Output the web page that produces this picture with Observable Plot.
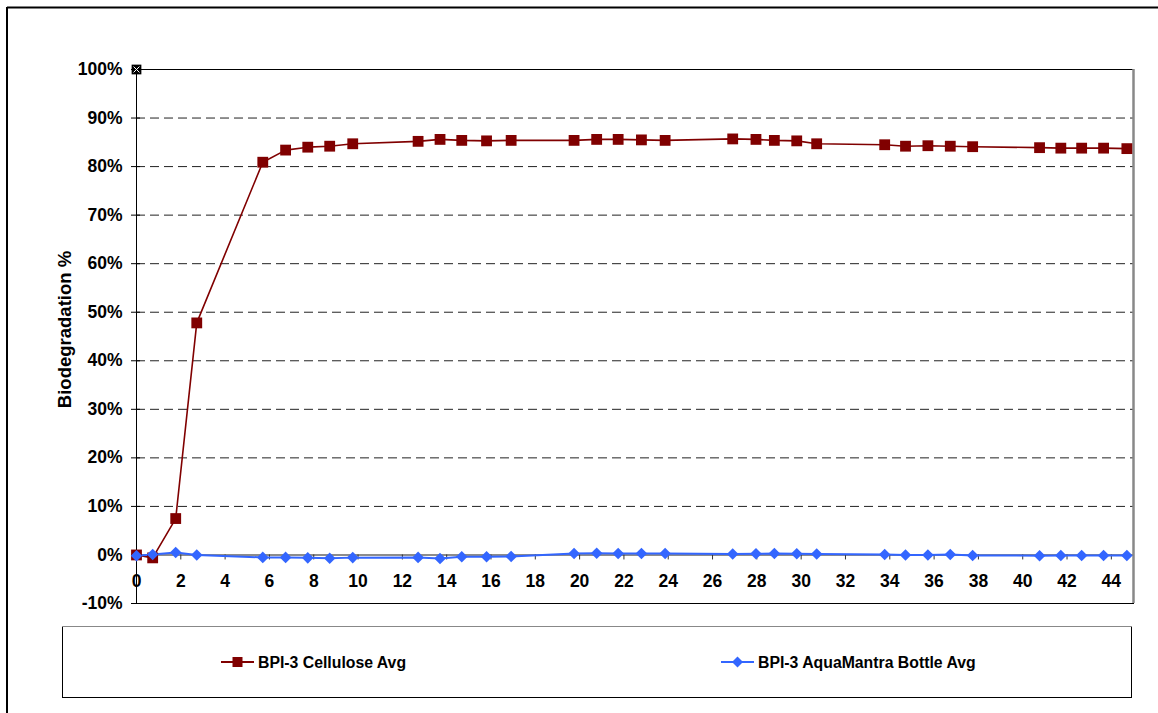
<!DOCTYPE html>
<html>
<head>
<meta charset="utf-8">
<script src="https://cdn.jsdelivr.net/npm/d3@7"></script>
<script src="https://cdn.jsdelivr.net/npm/@observablehq/plot@0.6"></script>
<style>
  html, body { margin: 0; padding: 0; background: #fff; }
  #chart { position: relative; width: 1158px; height: 713px; overflow: hidden; }
</style>
</head>
<body>
<div id="chart"></div>
<script>
// ---- data ----
const days = [0, 0.73, 1.77, 2.72, 5.70, 6.73, 7.73, 8.72, 9.76, 12.71, 13.70, 14.68, 15.80, 16.91,
  19.75, 20.77, 21.74, 22.79, 23.86, 26.91, 27.96, 28.79, 29.80, 30.70, 33.77, 34.71, 35.72, 36.73, 37.74,
  40.76, 41.72, 42.66, 43.65, 44.70];
const celluloseAvg = [0, -0.6, 7.5, 47.8, 80.9, 83.4, 84.0, 84.2, 84.7, 85.2, 85.6, 85.4, 85.3, 85.4,
  85.4, 85.6, 85.6, 85.5, 85.4, 85.7, 85.6, 85.4, 85.3, 84.7, 84.5, 84.2, 84.3, 84.2, 84.1,
  83.9, 83.8, 83.8, 83.8, 83.7];
const bottleAvg = [-0.15, 0.1, 0.5, 0.0, -0.5, -0.5, -0.6, -0.7, -0.55, -0.5, -0.75, -0.35, -0.35, -0.3,
  0.3, 0.35, 0.3, 0.3, 0.3, 0.2, 0.25, 0.3, 0.25, 0.2, 0.1, 0.0, 0.0, 0.1, -0.1,
  -0.15, -0.1, -0.1, -0.1, -0.1];
const seriesNames = ["BPI-3 Cellulose Avg", "BPI-3 AquaMantra Bottle Avg"];
const xDomain = [0, 45];
const yDomain = [-10, 100];
const xTicks = d3.range(0, 45, 2);
const yTicks = d3.range(-10, 101, 10);
const gridTicks = d3.range(10, 91, 10);
const yTitle = "Biodegradation %";
const cornerMark = [{x: 0, y: 100}];

const red = d3.range(days.length).map(i => ({x: days[i], y: celluloseAvg[i]}));
const blue = d3.range(days.length).map(i => ({x: days[i], y: bottleAvg[i]}));

const FONT = "'Liberation Sans', Arial, Helvetica, sans-serif";
const FS = 17.5;
const LEGEND_FS = 15.8;
const RED = "#800000", BLUE = "#3366ff";

const plot = Plot.plot({
  width: 1158,
  height: 713,
  marginLeft: 136,
  marginRight: 25,
  marginTop: 69,
  marginBottom: 110,
  style: {fontFamily: FONT, fontSize: FS + "px", fontWeight: "bold", color: "#000", background: "transparent", overflow: "visible"},
  x: {domain: xDomain, axis: null},
  y: {domain: yDomain, ticks: yTicks, tickFormat: d => d + "%", tickSize: 5, tickPadding: 9, label: null},
  marks: [
    Plot.ruleY(gridTicks, {stroke: "#222", strokeWidth: 1, strokeDasharray: "9,5"}),
    Plot.ruleY(yTicks, {y: d => d, x1: xDomain[0], x2: xDomain[0], insetRight: -4, stroke: "#000"}),
    Plot.ruleY([0], {stroke: "#666", strokeWidth: 1.5}),
    Plot.ruleX(xTicks, {x: d => d, y1: 0, y2: 0, insetBottom: -5, stroke: "#333"}),
    Plot.text(xTicks, {x: d => d, y: 0, dy: 26, text: d => String(d), fontSize: FS, fontWeight: "bold", fill: "#000"}),
    Plot.frame({stroke: "#000", strokeWidth: 1}),
    Plot.ruleX([xDomain[1]], {stroke: "#888", strokeWidth: 2.5}),
    Plot.text([yTitle], {frameAnchor: "left", textAnchor: "middle", dx: -71.5, dy: -7, rotate: -90, fontSize: 18.5, fontWeight: "bold", fill: "#000"}),
    Plot.line(red, {x: "x", y: "y", stroke: RED, strokeWidth: 1.6}),
    Plot.line(blue, {x: "x", y: "y", stroke: BLUE, strokeWidth: 2}),
    Plot.dot(red, {x: "x", y: "y", symbol: "square", r: 6.1, fill: RED, stroke: "none"}),
    Plot.dot(blue, {x: "x", y: "y", symbol: "diamond2", r: 5.2, fill: BLUE, stroke: "none"}),
    Plot.dot(cornerMark, {x: "x", y: "y", symbol: "square", r: 5.5, fill: "#000", stroke: "none"}),
    Plot.dot(cornerMark, {x: "x", y: "y", symbol: "times", r: 2.8, stroke: "#fff", strokeWidth: 1})
  ]
});

document.getElementById("chart").appendChild(plot);

// outer frame and legend box
const svg = d3.select(plot);
const deco = svg.append("g");
deco.append("line").attr("x1", 7).attr("x2", 1200).attr("y1", 7.5).attr("y2", 7.5).attr("stroke", "#000").attr("stroke-width", 2);
deco.append("line").attr("x1", 7).attr("x2", 7).attr("y1", 7).attr("y2", 720).attr("stroke", "#000").attr("stroke-width", 2);

const lg = svg.append("g");
lg.append("rect").attr("x", 62.5).attr("y", 626.5).attr("width", 1069).attr("height", 71)
  .attr("fill", "#fff").attr("stroke", "#000").attr("stroke-width", 1);
lg.append("line").attr("x1", 62).attr("x2", 1132).attr("y1", 626.5).attr("y2", 626.5).attr("stroke", "#888").attr("stroke-width", 1.2);

const items = [
  {name: seriesNames[0], color: RED, sym: d3.symbolSquare, size: 100, lx: 221, lw: 33},
  {name: seriesNames[1], color: BLUE, sym: d3.symbolDiamond2, size: 78, lx: 721, lw: 33}
];
const LY = 662;
items.forEach(it => {
  lg.append("line").attr("x1", it.lx).attr("x2", it.lx + it.lw).attr("y1", LY).attr("y2", LY)
    .attr("stroke", it.color).attr("stroke-width", 2);
  lg.append("path").attr("d", d3.symbol(it.sym, it.size)()).attr("transform", `translate(${it.lx + it.lw / 2},${LY})`)
    .attr("fill", it.color);
  lg.append("text").attr("x", it.lx + it.lw + 4).attr("y", LY).attr("dy", "0.35em")
    .attr("text-anchor", "start")
    .attr("font-family", FONT).attr("font-size", LEGEND_FS).attr("font-weight", "bold").attr("fill", "#000")
    .text(it.name);
});
</script>
</body>
</html>
